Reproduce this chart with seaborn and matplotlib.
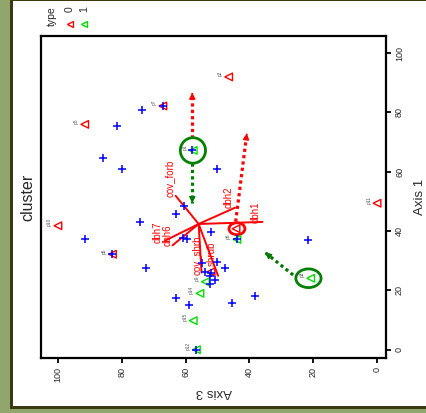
import numpy as np
import pandas as pd
import seaborn as sns
import matplotlib.pyplot as plt
from matplotlib.patches import Ellipse, Rectangle

# plot is shown turned 90 degrees: horizontal = Axis 3 (reversed), vertical = Axis 1

# sites drawn as triangles (type 0 red, type 1 green)
site_names = ['p10', 'p8', 'p5', 'p7', 'p2', '', 'p11', '',
              'p1', 'p3', 'p9', 'p14', 'p15', 'p12', 'p6']
site_axis3 = [100, 91.6, 82.9, 67.1, 46.5, 44.2, 0, 52.0,
              57.6, 20.8, 53.8, 55.5, 57.6, 56.6, 43.9]
site_axis1 = [41.8, 76.0, 32.2, 82.2, 92.0, 40.8, 49.4, 26.3,
              67.2, 24.1, 22.9, 19.0, 9.8, 0, 37.2]
site_type = [0, 0, 0, 0, 0, 0, 0, 0,
             1, 1, 1, 1, 1, 1, 1]

# blue crosses
cross_axis3 = [91.6, 81.4, 82.9, 85.9, 80.0, 73.5, 74.2, 72.5, 67.1, 62.9,
               62.9, 60.5, 60.9, 59.6, 58.9, 57.9, 56.8, 54.8, 54.0, 52.5,
               52.2, 51.9, 52.1, 50.8, 50.3, 50.0, 47.7, 45.6, 43.9, 38.3, 21.5]
cross_axis1 = [37.2, 75.3, 32.2, 64.6, 60.9, 80.7, 43.0, 27.4, 82.2, 17.3,
               45.7, 48.5, 37.6, 37.2, 15.0, 67.2, 0.0, 29.4, 26.3, 22.0,
               24.9, 26.0, 39.8, 23.5, 29.7, 60.9, 27.4, 15.9, 37.2, 18.1, 37.0]

# environmental vectors
vec_names = ['cov_forb', 'dbh2', 'dbh1', 'dbh7', 'dbh6', 'cov_shrb', 'shrub']
vec_axis3 = [63.1, 44.5, 35.9, 66.4, 64.1, 55.0, 49.8]
vec_axis1 = [51.9, 47.9, 43.1, 36.8, 35.2, 26.0, 24.9]
lab_axis3 = [64.9, 46.5, 38.2, 68.9, 65.6, 56.5, 51.7]
lab_axis1 = [57.9, 51.4, 46.5, 39.6, 38.7, 31.9, 32.5]
origin = (55.9, 42.4)

# dotted arrows (start, end)
arrow_from = [(57.9, 71.3), (44.3, 43.2), (57.9, 62.9), (26.3, 25.2)]
arrow_to = [(57.9, 86.7), (40.8, 73.0), (57.9, 49.4), (35.1, 32.8)]
arrow_colors = ['red', 'red', '#007a00', '#007a00']

# highlight rings: centre, width, height, colour
rings = [((57.7, 67.2), 7.9, 8.6, '#008000'),
         ((21.5, 24.1), 7.9, 6.3, '#008000'),
         ((43.9, 40.8), 5.0, 4.0, 'red')]

sites = pd.DataFrame({'name': site_names, 'a3': site_axis3, 'a1': site_axis1, 'type': site_type})
crosses = pd.DataFrame({'a3': cross_axis3, 'a1': cross_axis1})

sns.set_style('white')
plt.rcParams['font.family'] = ['Liberation Sans', 'DejaVu Sans']

W, H = 427, 413
fig = plt.figure(figsize=(W / 100, H / 100), dpi=100)
fig.patch.set_facecolor('#91a66c')
fig.add_artist(Rectangle((10 / W, 4 / H), 1, 1, transform=fig.transFigure,
                         fc='#3a3a12', ec='none', zorder=-2))
fig.add_artist(Rectangle((13 / W, 7 / H), 1, (413 - 1 - 7) / H, transform=fig.transFigure,
                         fc='white', ec='none', zorder=-1))

ax = fig.add_axes([41 / W, (H - 358) / H, 345 / W, 322 / H])
ax.set_facecolor('white')

# vectors
for i in range(len(vec_names)):
    ax.plot([origin[0], vec_axis3[i]], [origin[1], vec_axis1[i]], color='red', lw=1.4, zorder=3)
    ax.text(lab_axis3[i], lab_axis1[i], vec_names[i], color='red', fontsize=7,
            rotation=90, ha='center', va='center', zorder=4)

# dotted arrows
for (x0, y0), (x1, y1), c in zip(arrow_from, arrow_to, arrow_colors):
    ax.plot([x0, x1], [y0, y1], color=c, lw=2.3, ls=(0, (1, 1)), zorder=3)
    dx, dy = (x1 - x0), (y1 - y0)
    n = np.hypot(dx, dy)
    ax.annotate('', xy=(x1, y1), xytext=(x1 - dx / n * 0.5, y1 - dy / n * 0.5),
                arrowprops=dict(arrowstyle='-|>', color=c, lw=1, mutation_scale=9), zorder=4)

# rings
for (cx, cy), w, h, c in rings:
    ax.add_patch(Ellipse((cx, cy), w, h, fill=False, ec=c, lw=2, zorder=5))

# triangles
pal = {0: 'red', 1: '#00dd00'}
for t, grp in sites.groupby('type'):
    ax.scatter(grp['a3'], grp['a1'], marker='<', s=30, facecolors='none',
               edgecolors=pal[t], linewidths=1, zorder=6)
for _, r in sites.iterrows():
    if r['name']:
        ax.annotate(r['name'], (r['a3'], r['a1']), xytext=(-6, 2.5), textcoords='offset points',
                    fontsize=3.5, color='#555555', rotation=90, ha='center', va='center', zorder=6)

# crosses
sns.scatterplot(data=crosses, x='a3', y='a1', marker='+', color='blue', s=40,
                linewidth=1.1, ax=ax, zorder=7)

ax.set_xlim(105.3, -2.8)
ax.set_ylim(-2.8, 105.8)
ax.set_xticks([0, 20, 40, 60, 80, 100])
ax.set_yticks([0, 20, 40, 60, 80, 100])
ax.yaxis.tick_right()
ax.yaxis.set_label_position('right')
ax.tick_params(axis='both', length=3.5, width=1.3, labelsize=6.5, color='black', direction='out')
ax.tick_params(axis='x', bottom=True, pad=3)
ax.tick_params(axis='y', right=True, pad=3)
for lab in ax.get_xticklabels():
    lab.set_rotation(90)
for lab in ax.get_yticklabels():
    lab.set_rotation(90)
    lab.set_va('center')
for s in ax.spines.values():
    s.set_linewidth(1.6)
    s.set_color('black')

ax.set_xlabel('Axis 3', fontsize=9.5, rotation=180, labelpad=3)
ax.set_ylabel('Axis 1', fontsize=9.5, rotation=90, labelpad=7)

fig.text(28 / W, 1 - 197 / H, 'cluster', fontsize=11.5, rotation=90, ha='center', va='center')

# legend drawn turned like the rest
fig.text(52 / W, 1 - 16 / H, 'type', fontsize=7.5, rotation=90, ha='center', va='center')
for x, lbl, c in [(70, '0', 'red'), (84, '1', '#00dd00')]:
    fig.text(x / W, 1 - 9 / H, lbl, fontsize=7.5, rotation=90, ha='center', va='center')
    fig.add_artist(plt.Line2D([x / W], [1 - 24 / H], marker='<', ms=5, mfc='none', mec=c,
                              mew=1, ls='none', transform=fig.transFigure))

fig.savefig('out.png', dpi=100, facecolor=fig.get_facecolor())
